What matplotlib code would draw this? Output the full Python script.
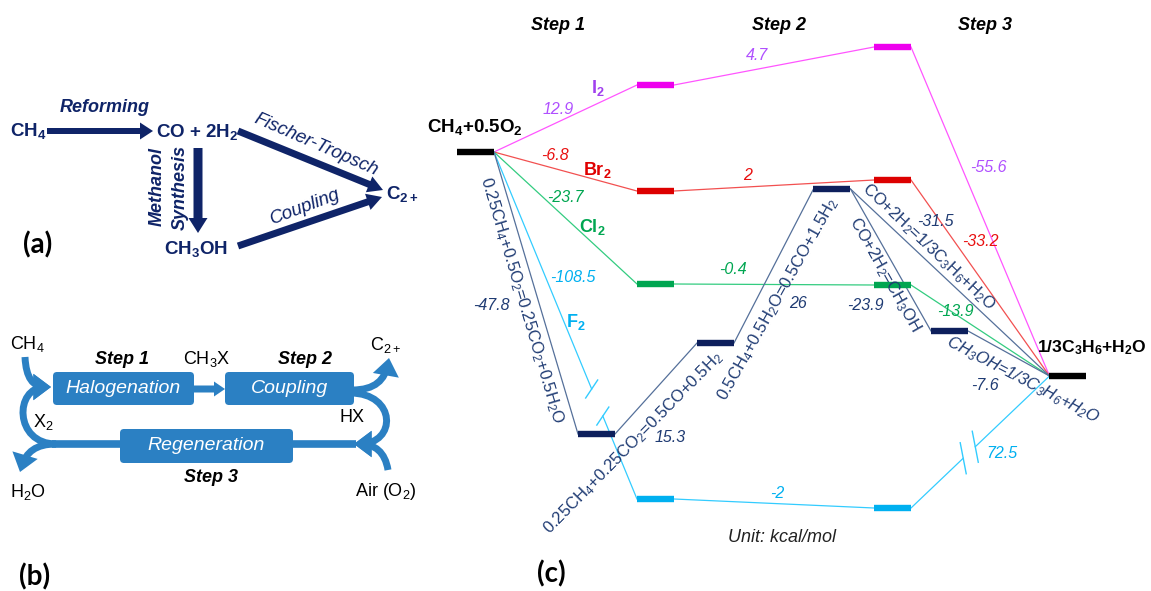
import matplotlib
matplotlib.use('Agg')
import matplotlib.pyplot as plt
from matplotlib.patches import FancyBboxPatch, FancyArrowPatch
from matplotlib.path import Path
import numpy as np

plt.rcParams['font.family'] = ['Liberation Sans', 'DejaVu Sans']
plt.rcParams['mathtext.default'] = 'regular'

# ---------------- data ----------------
# panel (c): energy diagram (level heights in diagram units, schematic)
step_names = ['Step 1', 'Step 2', 'Step 3']
step_label_x = [558, 779, 985]
level_x = [475.5, 655.5, 892.5, 1068]          # start, after step 1, after step 2, final
halogen_names = ['I$_2$', 'Br$_2$', 'Cl$_2$', 'F$_2$']
i2_levels = [152, 85, 47, 376]
br2_levels = [152, 191, 180, 376]
cl2_levels = [152, 284, 285, 376]
f2_levels = [152, 499, 508, 376]
i2_dE = [12.9, 4.7, -55.6]
br2_dE = [-6.8, 2, -33.2]
cl2_dE = [-23.7, -0.4, -13.9]
f2_dE = [-108.5, -2, 72.5]

# syngas / methanol route
route_x = [475.5, 596.5, 715.5, 832, 949.5, 1068]
route_levels = [152, 434, 343, 189, 331, 376]
route_links = [(0, 1), (1, 2), (2, 3), (3, 5), (3, 4), (4, 5)]
route_dE = [-47.8, 15.3, 26, -31.5, -23.9, -7.6]
route_reactions = ['0.25CH$_4$+0.5O$_2$=0.25CO$_2$+0.5H$_2$O',
                   '0.25CH$_4$+0.25CO$_2$=0.5CO+0.5H$_2$',
                   '0.5CH$_4$+0.5H$_2$O=0.5CO+1.5H$_2$',
                   'CO+2H$_2$=1/3C$_3$H$_6$+H$_2$O',
                   'CO+2H$_2$=CH$_3$OH',
                   'CH$_3$OH=1/3C$_3$H$_6$+H$_2$O']
start_label = 'CH$_4$+0.5O$_2$'
end_label = '1/3C$_3$H$_6$+H$_2$O'

# ---------------- styles ----------------
W, H = 1151, 591
bar_half = 18.5
bar_col = {'I': '#ee00ee', 'Br': '#dd0000', 'Cl': '#00a651', 'F': '#00b0f0'}
line_col = {'I': '#ff55ff', 'Br': '#f25050', 'Cl': '#33cc80', 'F': '#33ccff'}
text_col = {'I': '#b050ff', 'Br': '#e81010', 'Cl': '#00a651', 'F': '#00b0f0'}
lbl_col = {'I': '#a040ee', 'Br': '#e00000', 'Cl': '#00a651', 'F': '#00b0f0'}
navy_bar = '#0d1f5c'
navy_line = '#55709a'
navy_txt = '#1f3b73'
a_col = '#0f2468'
b_col = '#2b80c3'

fig = plt.figure(figsize=(W / 100, H / 100), dpi=100)
ax = fig.add_axes([0, 0, 1, 1])
ax.set_xlim(0, W)
ax.set_ylim(H, 0)
ax.axis('off')


def T(x, y, s, size=12, color='k', weight='normal', style='normal', rot=0,
      ha='center', va='center', family=None):
    kw = {}
    if family is not None:
        kw['family'] = family
    ax.text(x, y, s, fontsize=size, color=color, fontweight=weight,
            fontstyle=style, rotation=rot, ha=ha, va=va,
            rotation_mode='anchor', zorder=8, **kw)


def bar(x, y, c):
    ax.plot([x - bar_half, x + bar_half], [y, y], color=c, lw=4.6,
            solid_capstyle='butt', zorder=4)


def seg(x0, y0, x1, y1, c, lw=0.9):
    ax.plot([x0, x1], [y0, y1], color=c, lw=lw, zorder=3)


# ---------------- panel (c) ----------------
for name, x in zip(step_names, step_label_x):
    T(x, 25, name, size=13, weight='bold', style='italic')

keys = ['I', 'Br', 'Cl', 'F']
all_levels = [i2_levels, br2_levels, cl2_levels, f2_levels]
# break marks on F2 path: segment index -> (t_end, t_start, tick vector)
f2_breaks = {0: (0.683, 0.761, (12, -18)), 2: (0.377, 0.464, (6, 31))}

for k, lev in zip(keys, all_levels):
    for i in range(1, 3):
        bar(level_x[i], lev[i], bar_col[k])
    for i in range(3):
        x0, y0 = level_x[i] + bar_half, lev[i]
        x1, y1 = level_x[i + 1] - bar_half, lev[i + 1]
        if k == 'F' and i in f2_breaks:
            ta, tb, tv = f2_breaks[i]
            pa = (x0 + ta * (x1 - x0), y0 + ta * (y1 - y0))
            pb = (x0 + tb * (x1 - x0), y0 + tb * (y1 - y0))
            seg(x0, y0, pa[0], pa[1], line_col[k])
            seg(pb[0], pb[1], x1, y1, line_col[k])
            for p in (pa, pb):
                seg(p[0] - tv[0] / 2, p[1] - tv[1] / 2, p[0] + tv[0] / 2,
                    p[1] + tv[1] / 2, line_col[k], lw=1.0)
        else:
            seg(x0, y0, x1, y1, line_col[k])

# navy route
for (i, j) in route_links:
    seg(route_x[i] + bar_half, route_levels[i], route_x[j] - bar_half,
        route_levels[j], navy_line)
for i in range(1, 5):
    bar(route_x[i], route_levels[i], navy_bar)

# start / end bars
bar(level_x[0], i2_levels[0], 'black')
bar(level_x[3], i2_levels[3], 'black')
T(475, 127, start_label, size=13.5, weight='bold')
T(1037, 348, end_label, size=12.6, weight='bold', ha='left')

# halogen labels
hal_pos = [(598, 88), (597, 170), (592, 227), (576, 322)]
for k, name, (x, y) in zip(keys, halogen_names, hal_pos):
    T(x, y, name, size=13, weight='bold', color=lbl_col[k])

# energy labels for halogen routes
dE_all = [i2_dE, br2_dE, cl2_dE, f2_dE]
dE_pos = [[(558, 110), (757, 55), (988, 168)],
          [(555, 155), (748, 175), (980, 242)],
          [(565, 197), (733, 270), (955, 312)],
          [(573, 278), (777, 493), (1002, 453)]]
for k, vals, poss in zip(keys, dE_all, dE_pos):
    for v, (x, y) in zip(vals, poss):
        T(x, y, f'{v:g}', size=11.5, style='italic', color=text_col[k])

# route energy labels
route_dE_pos = [(491, 305), (670, 437), (798, 304), (935, 222), (865, 305), (985, 386)]
for v, (x, y) in zip(route_dE, route_dE_pos):
    T(x, y, f'{v:g}', size=11.5, style='italic', color=navy_txt)

# route reaction labels (rotated along the links)
react_pos = [(522, 300), (633, 443), (778, 299), (929, 247), (885, 275), (1023, 380)]
react_rot = [-73.4, 45.5, 60.7, -43.4, -60.6, -27.5]
react_style = ['normal', 'normal', 'normal', 'normal', 'normal', 'italic']
for s, (x, y), r, st in zip(route_reactions, react_pos, react_rot, react_style):
    T(x, y, s, size=12, color=navy_txt, rot=r, style=st)

T(782, 538, 'Unit: kcal/mol', size=13, style='italic', color='#222222')
T(551, 574, '(c)', size=20, weight='bold', family=['Lato', 'DejaVu Sans'])

# ---------------- panel (a) ----------------
def arr(x0, y0, x1, y1, w, hw, hl, c=a_col):
    ax.arrow(x0, y0, x1 - x0, y1 - y0, width=w, head_width=hw, head_length=hl,
             length_includes_head=True, color=c, lw=0, zorder=3)

arr(47, 131, 153, 131, 6, 17, 13)
arr(198, 148, 198, 233, 9, 19, 15)
arr(238, 131, 383, 190, 7, 17, 15)
arr(238, 246, 382, 197, 7, 17, 15)

T(28, 131, 'CH$_4$', size=13.5, color=a_col, weight='bold')
T(105, 107, 'Reforming', size=13, weight='bold', style='italic', color=a_col)
T(197, 132, 'CO + 2H$_2$', size=13.5, color=a_col, weight='bold')
T(157, 187, 'Methanol', size=13, weight='bold', style='italic', color=a_col, rot=90)
T(180, 187, 'Synthesis', size=13, weight='bold', style='italic', color=a_col, rot=90)
T(196, 249, 'CH$_3$OH', size=13.5, color=a_col, weight='bold')
T(316, 145, 'Fischer-Tropsch', size=13.5, style='italic', color=a_col, rot=-23.5)
T(305, 207, 'Coupling', size=13.5, style='italic', color=a_col, rot=21)
T(386, 194, 'C$_{2+}$', size=13.5, color=a_col, ha='left', weight='bold')
T(38, 245, '(a)', size=20, weight='bold', family=['Lato', 'DejaVu Sans'])

# ---------------- panel (b) ----------------
def rbox(x0, y0, x1, y1, label):
    p = FancyBboxPatch((x0, y0), x1 - x0, y1 - y0,
                       boxstyle='round,pad=0,rounding_size=4',
                       fc=b_col, ec='none', zorder=4)
    ax.add_patch(p)
    T((x0 + x1) / 2, (y0 + y1) / 2, label, size=14, style='italic',
      color='white')


def curve(pts, head=True):
    codes = [Path.MOVETO, Path.CURVE4, Path.CURVE4, Path.CURVE4]
    p = Path(pts, codes)
    style = '-|>,head_length=0.6,head_width=0.45' if head else '-'
    a = FancyArrowPatch(path=p, arrowstyle=style, mutation_scale=10, lw=5,
                        color=b_col, capstyle='butt', joinstyle='miter',
                        zorder=3)
    ax.add_patch(a)

ax.plot([52, 356], [444, 444], color=b_col, lw=5.5, solid_capstyle='butt', zorder=3)
curve([(25, 357), (26, 378), (33, 387), (51, 387)])
curve([(56, 444), (14, 444), (14, 387), (51, 387)])
curve([(56, 444), (36, 444), (26, 452), (20, 472)])
curve([(352, 390), (375, 390), (385, 380), (389, 358)])
curve([(350, 393), (397, 393), (397, 444), (354, 444)])
curve([(388, 470), (385, 452), (375, 444), (354, 444)])

rbox(53, 372, 194, 405, 'Halogenation')
rbox(225, 372, 354, 405, 'Coupling')
rbox(120, 429, 293, 463, 'Regeneration')
arr(194, 389, 225, 389, 7, 15, 11, c=b_col)

T(27, 344, 'CH$_4$', size=13)
T(122, 359, 'Step 1', size=13, weight='bold', style='italic')
T(207, 359, 'CH$_3$X', size=13)
T(305, 359, 'Step 2', size=13, weight='bold', style='italic')
T(386, 345, 'C$_{2+}$', size=13)
T(43, 422, 'X$_2$', size=13)
T(352, 418, 'HX', size=13)
T(211, 477, 'Step 3', size=13, weight='bold', style='italic')
T(28, 492, 'H$_2$O', size=13)
T(386, 491, 'Air (O$_2$)', size=13)
T(35, 577, '(b)', size=20, weight='bold', family=['Lato', 'DejaVu Sans'])

fig.savefig('out.png', dpi=100)
